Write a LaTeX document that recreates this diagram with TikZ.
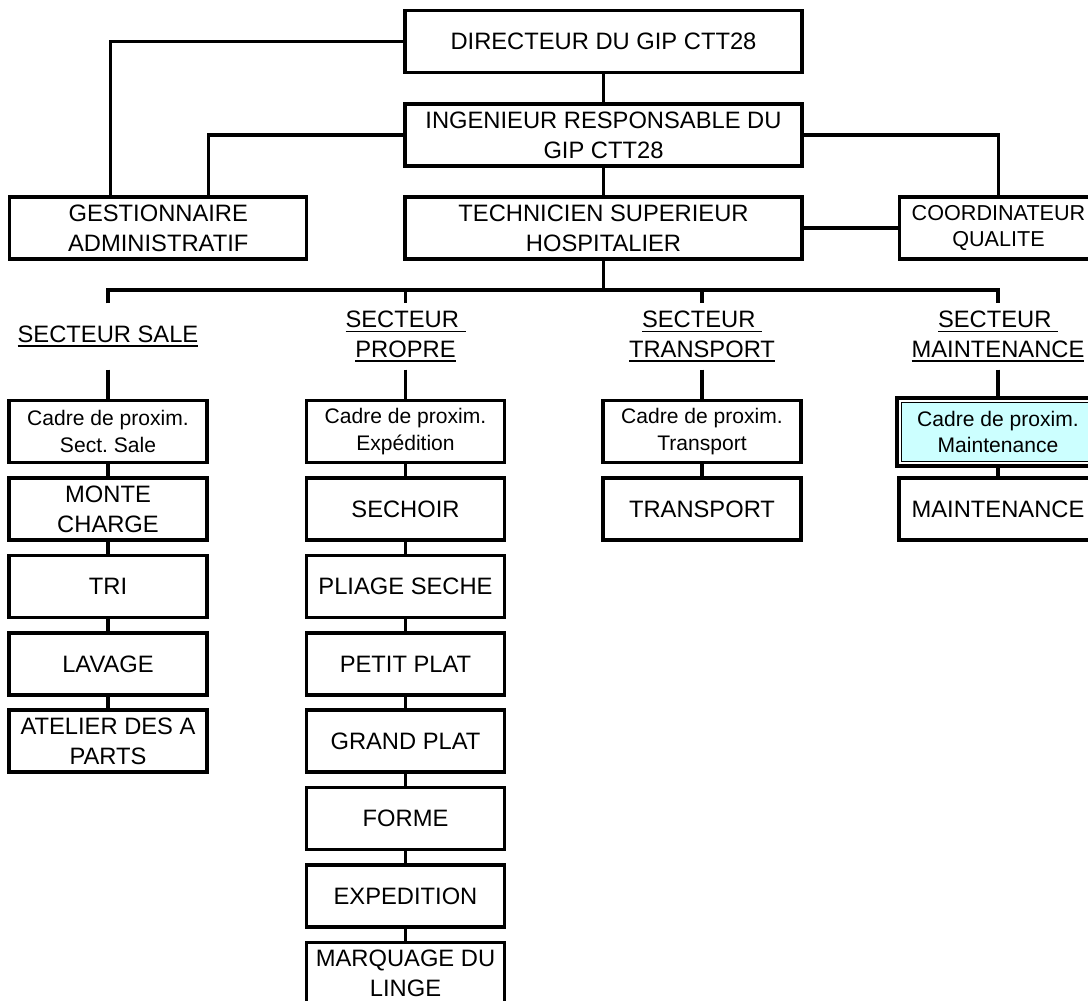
\documentclass[tikz,border=0pt]{standalone}
\usepackage{fontspec}
\setmainfont{Liberation Sans}
\definecolor{cyanclair}{HTML}{CCFFFF}
\newcommand\souligne[1]{\setbox0\hbox{#1}\rlap{\rule[-3pt]{\wd0}{1pt}}\box0}
\frenchspacing

\begin{document}
\begin{tikzpicture}[x=0.75pt, y=-0.75pt, line width=2.3pt,
	poste/.style={draw, fill=white, minimum width=148.5pt, minimum height=46.5pt, inner sep=1pt, align=center, font=\fontsize{17.8}{22.3}\selectfont},
	cadre/.style={poste, font=\fontsize{15.8}{20}\selectfont},
	secteur/.style={minimum height=47.25pt, inner sep=0pt, align=center, font=\fontsize{17.8}{22.3}\selectfont}]
	\useasboundingbox (0,0) rectangle (1088,1000);
	\clip (0,0) rectangle (1088,1000);
	\node[poste, minimum width=297.75pt] (dir) at (603.5,41.5) {DIRECTEUR DU GIP CTT28};
	\node[poste, minimum width=297.75pt] (ing) at (603.5,135) {INGENIEUR RESPONSABLE DU\\GIP CTT28};
	\node[poste, minimum width=297.75pt] (tech) at (603.5,228) {TECHNICIEN SUPERIEUR\\HOSPITALIER};
	\node[poste, minimum width=223pt] (gest) at (158.25,228) {GESTIONNAIRE\\ADMINISTRATIF};
	\node[poste, font=\fontsize{16.2}{19.8}\selectfont] (coord) at (998.5,228) {COORDINATEUR\\QUALITE};
	\draw (dir.west) -| ([xshift=-36pt]gest.north);
	\draw (ing.west) -| ([xshift=37.5pt]gest.north);
	\draw (dir) -- (ing) (ing) -- (tech);
	\draw (ing.east) -| (coord.north);
	\draw (tech) -- (coord);
	\node[secteur] (sale) at (108,336.5) {\souligne{SECTEUR SALE}};
	\node[secteur] (propre) at (405.5,336.5) {\souligne{SECTEUR\ }\\\souligne{PROPRE}};
	\node[secteur] (transp) at (702,336.5) {\souligne{SECTEUR\ }\\\souligne{TRANSPORT}};
	\node[secteur] (maint) at (998,336.5) {\souligne{SECTEUR\ }\\\souligne{MAINTENANCE}};
	\coordinate (bus) at (603.5,290);
	\draw (tech.south) -- (bus);
	\draw (sale.north) |- (bus) -| (maint.north);
	\draw (propre.north |- bus) -- (propre.north);
	\draw (transp.north |- bus) -- (transp.north);
	\node[cadre] (s1) at (108,431.5) {Cadre de proxim.\\Sect. Sale};
	\node[poste] (s2) at (108,509) {MONTE\\CHARGE};
	\node[poste] (s3) at (108,586.5) {TRI};
	\node[poste] (s4) at (108,664) {LAVAGE};
	\node[poste] (s5) at (108,741) {ATELIER DES A\\PARTS};
	\node[cadre] (p1) at (405.5,431.5) {Cadre de proxim.\\Expédition};
	\node[poste] (p2) at (405.5,509) {SECHOIR};
	\node[poste] (p3) at (405.5,586.5) {PLIAGE SECHE};
	\node[poste] (p4) at (405.5,664) {PETIT PLAT};
	\node[poste] (p5) at (405.5,741) {GRAND PLAT};
	\node[poste] (p6) at (405.5,818.5) {FORME};
	\node[poste] (p7) at (405.5,896) {EXPEDITION};
	\node[poste] (p8) at (405.5,973.5) {MARQUAGE DU\\LINGE};
	\node[cadre] (t1) at (702,431.5) {Cadre de proxim.\\Transport};
	\node[poste] (t2) at (702,509) {TRANSPORT};
	\node[cadre, minimum width=151.5pt, minimum height=51pt,
	  path picture={\draw[line width=0.8pt, fill=cyanclair] ([shift={(3.5pt,-3.5pt)}]path picture bounding box.north west) rectangle ([shift={(-3.5pt,3.5pt)}]path picture bounding box.south east);}] (m1) at (998,432) {Cadre de proxim.\\Maintenance};
	\node[poste] (m2) at (998,509) {MAINTENANCE};
	\draw (sale) -- (s1) (s1) -- (s2) (s2) -- (s3) (s3) -- (s4) (s4) -- (s5);
	\draw (propre) -- (p1) (p1) -- (p2) (p2) -- (p3) (p3) -- (p4) (p4) -- (p5) (p5) -- (p6) (p6) -- (p7) (p7) -- (p8);
	\draw (transp) -- (t1) (t1) -- (t2);
	\draw (maint) -- (m1) (m1) -- (m2);
\end{tikzpicture}
\end{document}
